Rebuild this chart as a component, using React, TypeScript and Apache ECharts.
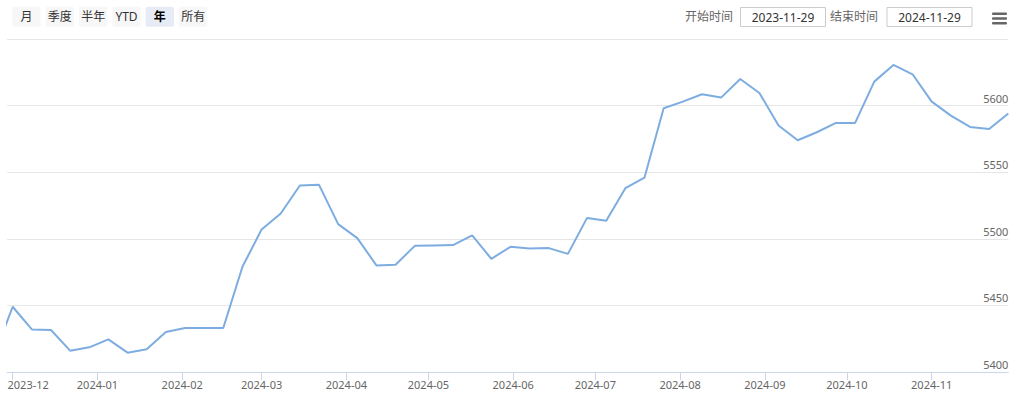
import React, { useEffect, useRef } from "react";
import * as echarts from "echarts";

const dates: string[] = [
  "2023-11-24", "2023-12-01", "2023-12-08", "2023-12-15", "2023-12-22", "2023-12-29",
  "2024-01-05", "2024-01-12", "2024-01-19", "2024-01-26", "2024-02-02", "2024-02-09",
  "2024-02-16", "2024-02-23", "2024-03-01", "2024-03-08", "2024-03-15", "2024-03-22",
  "2024-03-29", "2024-04-05", "2024-04-12", "2024-04-19", "2024-04-26", "2024-05-03",
  "2024-05-10", "2024-05-17", "2024-05-24", "2024-05-31", "2024-06-07", "2024-06-14",
  "2024-06-21", "2024-06-28", "2024-07-05", "2024-07-12", "2024-07-19", "2024-07-26",
  "2024-08-02", "2024-08-09", "2024-08-16", "2024-08-23", "2024-08-30", "2024-09-06",
  "2024-09-13", "2024-09-20", "2024-09-27", "2024-10-04", "2024-10-11", "2024-10-18",
  "2024-10-25", "2024-11-01", "2024-11-08", "2024-11-15", "2024-11-22", "2024-11-29",
];

const values: number[] = [
  5411, 5449, 5432, 5431.5, 5416, 5418.5,
  5424.5, 5414.5, 5417, 5430, 5433, 5433,
  5433, 5479, 5507, 5519, 5540, 5540.5,
  5511, 5500.5, 5480, 5480.5, 5494.7, 5495,
  5495.3, 5502.5, 5485, 5494, 5492.7, 5493,
  5488.7, 5515.7, 5513.5, 5538, 5546, 5598,
  5603, 5608.5, 5606, 5620, 5609.5, 5585,
  5574, 5580, 5587, 5587, 5618, 5630.5,
  5623.5, 5603, 5592.5, 5584, 5582.5, 5594,
];

const monthTicks: string[] = [
  "2023-12-01", "2024-01-01", "2024-02-01", "2024-03-01", "2024-04-01", "2024-05-01",
  "2024-06-01", "2024-07-01", "2024-08-01", "2024-09-01", "2024-10-01", "2024-11-01",
];

const rangeButtons: string[] = ["月", "季度", "半年", "YTD", "年", "所有"];
const selectedButton = "年";
const startDate = "2023-11-29";
const endDate = "2024-11-29";
const yMin = 5400;
const yMax = 5650;
const yStep = 50;

const FONT = "'Noto Sans', 'Noto Sans CJK SC', sans-serif";

function toTs(s: string): number {
  const [y, m, d] = s.split("-").map(Number);
  return new Date(y, m - 1, d).getTime();
}

export default function App() {
  const ref = useRef<HTMLDivElement>(null);

  useEffect(() => {
    if (!ref.current) return;
    const chart = echarts.init(ref.current, null, { renderer: "svg" });
    const tickTs = monthTicks.map(toTs);
    const firstTick = tickTs[0];

    const graphics: any[] = [];
    rangeButtons.forEach((b, i) => {
      const x = 12.3 + i * 33.35;
      const sel = b === selectedButton;
      graphics.push({
        type: "rect",
        shape: { x, y: 6.7, width: 28.3, height: 20, r: 2 },
        style: { fill: sel ? "#e6ebf5" : "#f7f7f7" },
        z: 100,
      });
      graphics.push({
        type: "text",
        x: x + 14.15,
        y: 16.7,
        style: {
          text: b,
          fill: sel ? "#000000" : "#333333",
          fontSize: 12,
          fontWeight: sel ? "bold" : "normal",
          fontFamily: FONT,
          align: "center",
          verticalAlign: "middle",
        },
        z: 101,
      });
    });

    const dateBox = (label: string, labelRight: number, boxX: number, val: string) => {
      graphics.push({
        type: "text",
        x: labelRight,
        y: 16.5,
        style: {
          text: label,
          fill: "#666666",
          fontSize: 12,
          fontFamily: FONT,
          align: "right",
          verticalAlign: "middle",
        },
        z: 101,
      });
      graphics.push({
        type: "rect",
        shape: { x: boxX + 0.5, y: 7.5, width: 85, height: 19 },
        style: { fill: "#ffffff", stroke: "#cccccc", lineWidth: 1 },
        z: 100,
      });
      graphics.push({
        type: "text",
        x: boxX + 43,
        y: 17,
        style: {
          text: val,
          fill: "#333333",
          fontSize: 12,
          fontFamily: FONT,
          align: "center",
          verticalAlign: "middle",
        },
        z: 101,
      });
    };
    dateBox("开始时间", 733, 740, startDate);
    dateBox("结束时间", 878, 886.5, endDate);

    [12.6, 17.3, 22].forEach((yy) => {
      graphics.push({
        type: "rect",
        shape: { x: 992, y: yy, width: 15, height: 2.4, r: 1 },
        style: { fill: "#666666" },
        z: 100,
      });
    });

    chart.setOption({
      animation: false,
      graphic: { elements: graphics },
      grid: { left: 7.2, right: 13.7, top: 39, bottom: 31, containLabel: false },
      xAxis: {
        type: "value",
        min: toTs(startDate),
        max: toTs(endDate),
        axisLine: { show: true, lineStyle: { color: "#ccd6eb", width: 1 } },
        axisTick: {
          show: true,
          customValues: tickTs,
          length: 8,
          lineStyle: { color: "#ccd6eb", width: 1 },
        },
        splitLine: { show: false },
        axisLabel: {
          customValues: tickTs,
          margin: 7,
          color: "#666666",
          fontSize: 11,
          fontFamily: FONT,
          formatter: (v: number) => {
            const d = new Date(v);
            const s = `${d.getFullYear()}-${String(d.getMonth() + 1).padStart(2, "0")}`;
            return v === firstTick ? `{first|${s}}` : s;
          },
          rich: {
            first: {
              padding: [0, 0, 0, 31],
              color: "#666666",
              fontSize: 11,
              fontFamily: FONT,
            },
          },
        },
      },
      yAxis: {
        type: "value",
        position: "right",
        min: yMin,
        max: yMax,
        interval: yStep,
        axisLine: { show: false },
        axisTick: { show: false },
        splitLine: { show: true, lineStyle: { color: "#e6e6e6", width: 1 } },
        axisLabel: {
          inside: true,
          margin: 0,
          verticalAlign: "bottom",
          padding: [0, 0, 2, 0],
          color: "#666666",
          fontSize: 11,
          fontFamily: FONT,
          formatter: (v: number) => (v === yMax ? "" : String(v)),
        },
      },
      series: [
        {
          type: "line",
          data: dates.map((d, i) => [toTs(d), values[i]]),
          showSymbol: false,
          symbol: "none",
          clip: true,
          lineStyle: { color: "#7dade0", width: 2 },
          itemStyle: { color: "#7dade0" },
        },
      ],
    });

    return () => chart.dispose();
  }, []);

  return (
    <div
      ref={ref}
      style={{ position: "fixed", left: 0, top: 0, width: 1022, height: 403, background: "#ffffff" }}
    />
  );
}
